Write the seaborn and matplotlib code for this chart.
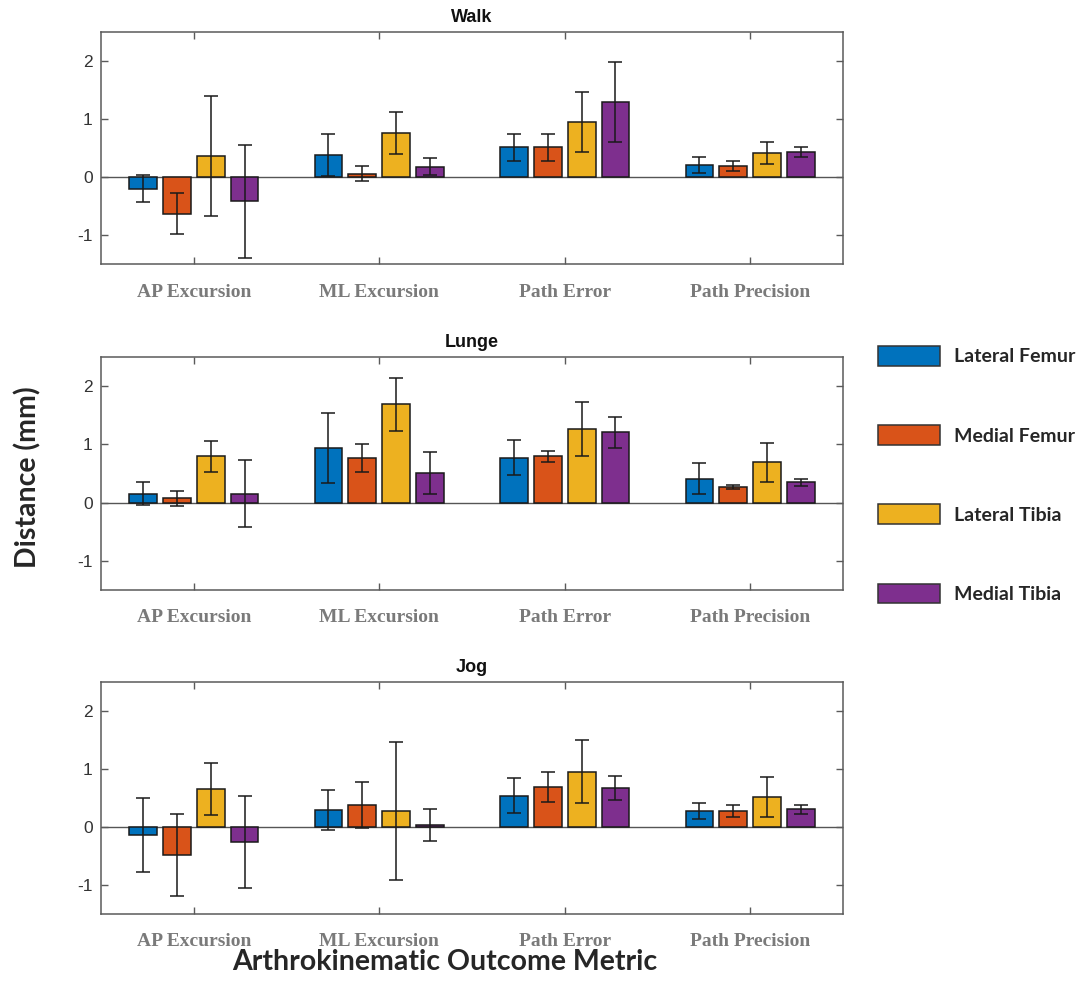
import numpy as np
import pandas as pd
import matplotlib
matplotlib.use("Agg")
import matplotlib.pyplot as plt
import seaborn as sns
from matplotlib.patches import Patch

metrics = ["AP Excursion", "ML Excursion", "Path Error", "Path Precision"]
structures = ["Lateral Femur", "Medial Femur", "Lateral Tibia", "Medial Tibia"]
activities = ["Walk", "Lunge", "Jog"]
colors = ["#0072BD", "#D95319", "#EDB120", "#7E2F8E"]

# rows: structures (LF, MF, LT, MT); columns: metrics (AP, ML, PE, PP)
walk_mean = [[-0.20, 0.38, 0.51, 0.21],
             [-0.63, 0.06, 0.51, 0.19],
             [0.36, 0.76, 0.95, 0.41],
             [-0.42, 0.18, 1.30, 0.43]]
walk_err = [[0.23, 0.37, 0.24, 0.14],
            [0.35, 0.13, 0.23, 0.08],
            [1.03, 0.36, 0.52, 0.19],
            [0.97, 0.15, 0.69, 0.09]]

lunge_mean = [[0.15, 0.93, 0.77, 0.41],
              [0.07, 0.77, 0.79, 0.27],
              [0.79, 1.68, 1.26, 0.69],
              [0.15, 0.51, 1.20, 0.35]]
lunge_err = [[0.20, 0.60, 0.30, 0.26],
             [0.13, 0.24, 0.10, 0.03],
             [0.26, 0.45, 0.46, 0.33],
             [0.57, 0.36, 0.26, 0.06]]

jog_mean = [[-0.14, 0.29, 0.54, 0.27],
            [-0.48, 0.38, 0.69, 0.27],
            [0.65, 0.27, 0.95, 0.51],
            [-0.26, 0.03, 0.67, 0.30]]
jog_err = [[0.63, 0.35, 0.30, 0.14],
           [0.71, 0.40, 0.26, 0.10],
           [0.45, 1.19, 0.54, 0.34],
           [0.79, 0.28, 0.20, 0.08]]

yticks = [-1, 0, 1, 2]

sns.set_style("white")

fig = plt.figure(figsize=(10.91, 9.89), dpi=100)

axes_pos = [
    [0.0926, 0.733, 0.680, 0.2346],
    [0.0926, 0.4034, 0.680, 0.236],
    [0.0926, 0.0758, 0.680, 0.235],
]
means = [walk_mean, lunge_mean, jog_mean]
errs = [walk_err, lunge_err, jog_err]
spine_c = "#5a5a5a"

for act, pos, m, e in zip(activities, axes_pos, means, errs):
    ax = fig.add_axes(pos)
    rows = []
    for si, s in enumerate(structures):
        for mi, met in enumerate(metrics):
            rows.append({"metric": met, "structure": s,
                         "value": m[si][mi], "err": e[si][mi]})
    df = pd.DataFrame(rows)
    ax.axhline(0, color="#555555", lw=1.0, zorder=0.5)
    sns.barplot(data=df, x="metric", y="value", hue="structure",
                order=metrics, hue_order=structures, palette=colors,
                saturation=1, width=0.73, gap=0.18, edgecolor="#1a1a1a",
                linewidth=1.1, errorbar=None, legend=False, ax=ax, zorder=2)
    bar_conts = list(ax.containers)
    for si, cont in enumerate(bar_conts):
        xs = [b.get_x() + b.get_width() / 2 for b in cont]
        ax.errorbar(xs, m[si], yerr=e[si], fmt="none", ecolor="#1a1a1a",
                    elinewidth=1.1, capsize=5, capthick=1.1, zorder=3)
    ax.set_xlim(-0.5, 3.5)
    ax.set_ylim(-1.5, 2.5)
    ax.set_yticks(yticks)
    ax.set_yticklabels([str(t) for t in yticks])
    ax.set_xlabel("")
    ax.set_ylabel("")
    ax.set_title(act, fontsize=13, fontweight="bold", family="Liberation Sans",
                 pad=7, color="#111111")
    for sp in ax.spines.values():
        sp.set_visible(True)
        sp.set_color(spine_c)
        sp.set_linewidth(1.1)
    ax.tick_params(axis="both", direction="in", length=5, width=1.0,
                   color=spine_c, top=True, right=True, bottom=True, left=True)
    ax.tick_params(axis="y", labelsize=12.5, labelcolor="#333333", pad=6)
    ax.tick_params(axis="x", pad=14)
    for lab in ax.get_xticklabels():
        lab.set_family("Liberation Serif")
        lab.set_fontweight("bold")
        lab.set_fontsize(14)
        lab.set_color("#7a7a7a")
    for lab in ax.get_yticklabels():
        lab.set_family("Liberation Sans")

handles = [Patch(facecolor=c, edgecolor="#333333", linewidth=1.1) for c in colors]
fig.legend(handles, structures, loc="upper left", bbox_to_anchor=(0.7885, 0.668),
           frameon=False, handlelength=3.2, handleheight=1.2, handletextpad=0.7,
           labelspacing=3.05,
           prop={"family": "Lato", "weight": "bold", "size": 14})

fig.text(0.026, 0.518, "Distance (mm)", rotation=90, ha="center", va="center",
         fontsize=20.5, fontweight="bold", family="Lato")
fig.text(0.408, 0.027, "Arthrokinematic Outcome Metric", ha="center", va="center",
         fontsize=20.5, fontweight="bold", family="Lato")

fig.savefig("out.png", dpi=100)
